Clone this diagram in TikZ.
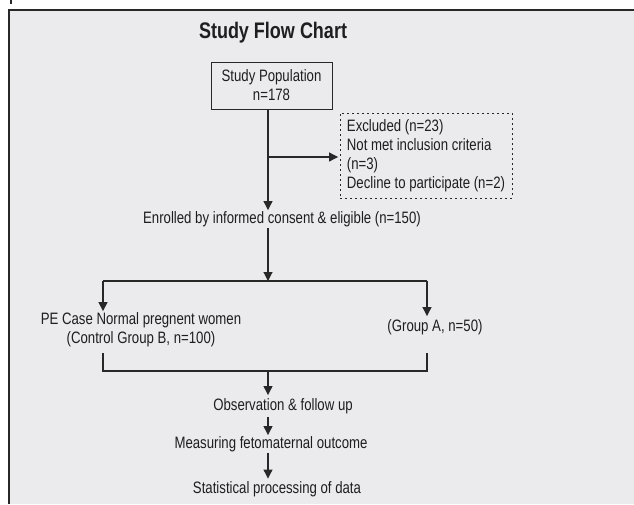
\documentclass[tikz,border=0pt]{standalone}
\usepackage{fontspec}
\setmainfont{Liberation Sans}[FakeStretch=0.8]
\usetikzlibrary{arrows.meta}
\definecolor{bg}{RGB}{235,235,237}
\definecolor{ln}{RGB}{40,40,40}
\definecolor{tx}{RGB}{30,30,30}
\begin{document}
\begin{tikzpicture}[x=1pt,y=-1pt,
  every node/.style={text=tx,font=\fontsize{16.5}{19}\selectfont},
  lbl/.style={inner xsep=0pt,inner ysep=1pt,text height=12pt,text depth=3.5pt},
  mlbl/.style={inner xsep=0pt,inner ysep=1pt,align=center},
  arr/.style={draw=ln,line width=1.1pt,-{Triangle[length=9pt,width=9pt]}},
  conn/.style={draw=ln,line width=1.1pt},
  boxsp/.style={draw=ln,line width=1pt,minimum width=121pt,minimum height=47pt,align=center,inner sep=0pt},
  exclbox/.style={draw=ln,line width=0.9pt,dash pattern=on 2pt off 3pt,minimum width=172pt,minimum height=85pt,align=left,inner sep=0pt}]
\useasboundingbox (0,0) rectangle (634,504);
% background and frame
\fill[bg] (9,10) rectangle (634,504);
\draw[ln,line width=1.2pt] (9,504) -- (9,10) -- (634,10);
\draw[ln,line width=1.3pt] (11,0) -- (11,4);
% title
\node[font=\bfseries\fontsize{22.5}{27}\selectfont] (title) at (273,33) {Study Flow Chart};
% nodes
\node[boxsp] (sp) at (271.5,85.5) {Study Population\\n=178};
\node[exclbox] (excl) at (426,155.5) {Excluded (n=23)\\Not met inclusion criteria\\(n=3)\\Decline to participate (n=2)};
\node[lbl] (enr) at (282,219) {Enrolled by informed consent \& eligible (n=150)};
\node[mlbl] (grpB) at (141,329.5) {PE Case Normal pregnent women\\(Control Group B, n=100)};
\node[lbl,inner ysep=3pt] (grpA) at (435,327) {(Group A, n=50)};
\node[lbl,inner ysep=3pt] (obs) at (283,406) {Observation \& follow up};
\node[lbl,inner ysep=1pt] (meas) at (271,444) {Measuring fetomaternal outcome};
\node[lbl,inner ysep=2.5pt] (stat) at (277,489) {Statistical processing of data};
% coordinates
\coordinate (spine) at (268,0);
\coordinate (split) at (268,281);
\coordinate (bl) at (103,281);
\coordinate (br) at (427,281);
\coordinate (tl) at (103,353);
\coordinate (tr) at (427,353);
\coordinate (ml) at (103,371);
\coordinate (mr) at (427,371);
\coordinate (merge) at (268,371);
\coordinate (branch) at (268,157);
% connectors
\draw[arr] (sp.south -| spine) -- (enr.north -| spine);
\draw[arr,shorten >=1.5pt] (branch) -- (branch -| excl.west);
\draw[arr] (enr.south -| spine) -- (split);
\draw[conn] (bl) -- (br);
\draw[arr] (bl) -- (grpB.north -| bl);
\draw[arr] (br) -- (grpA.north -| br);
\draw[conn] (tl) -- (ml) -- (mr) -- (tr);
\draw[arr] (merge) -- (obs.north -| spine);
\draw[arr] (obs.south -| spine) -- (meas.north -| spine);
\draw[arr] (meas.south -| spine) -- (stat.north -| spine);
\end{tikzpicture}
\end{document}
